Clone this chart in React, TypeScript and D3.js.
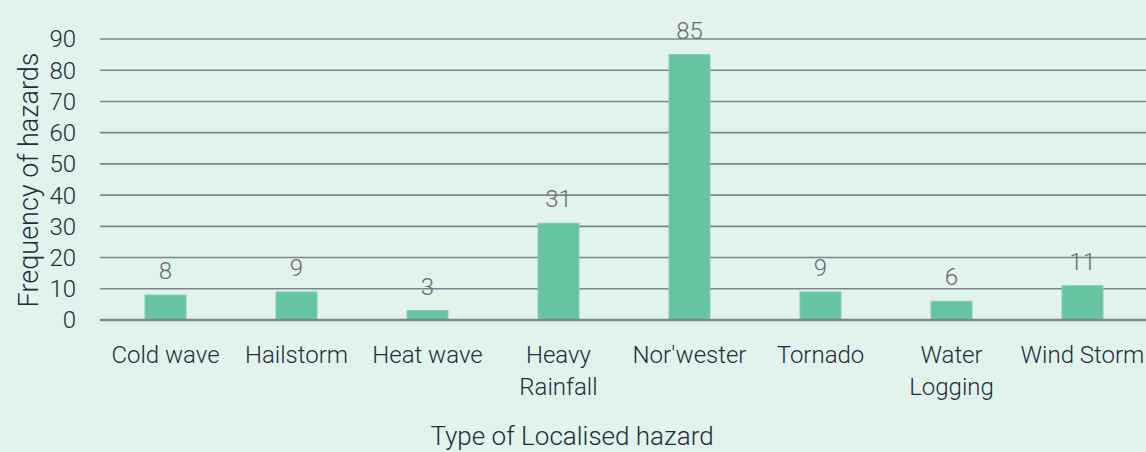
import React from "react";
import * as d3 from "d3";

const categories: string[][] = [
  ["Cold wave"],
  ["Hailstorm"],
  ["Heat wave"],
  ["Heavy", "Rainfall"],
  ["Nor'wester"],
  ["Tornado"],
  ["Water", "Logging"],
  ["Wind Storm"],
];
const values: number[] = [8, 9, 3, 31, 85, 9, 6, 11];
const yTicks: number[] = [0, 10, 20, 30, 40, 50, 60, 70, 80, 90];
const xTitle = "Type of Localised hazard";
const yTitle = "Frequency of hazards";

const W = 1146;
const H = 452;
const FONT = "Roboto, 'Open Sans', sans-serif";

export default function App() {
  const keys = categories.map((c) => c.join(" "));
  const x = d3.scaleBand<string>().domain(keys).range([100, 1148]).paddingInner(0.687).paddingOuter(0.687 / 2);
  const y = d3.scaleLinear().domain([0, 90]).range([320, 39]);

  return (
    <div style={{ position: "fixed", left: 0, top: 0 }}>
      <svg width={W} height={H} style={{ display: "block", fontFamily: FONT }}>
        <rect x={0} y={0} width={W} height={H} fill="#e2f2ec" />
        {yTicks.map((t) => (
          <g key={t}>
            {t !== 0 && (
              <line x1={100} x2={W} y1={y(t)} y2={y(t)} stroke="#7a8691" strokeWidth={1.6} />
            )}
            <text x={76} y={y(t)} dy="0.35em" textAnchor="end" fontSize={24} fontWeight={300} fill="#1f2d3d">
              {t}
            </text>
          </g>
        ))}
        {values.map((v, i) => {
          const k = keys[i];
          const bx = x(k)!;
          const bw = x.bandwidth();
          return (
            <g key={k}>
              <rect x={bx} y={y(v)} width={bw} height={y(0) - y(v)} fill="#66c4a0" stroke="#7fd1b0" strokeWidth={1} />
              <text x={bx + bw / 2} y={y(v) - 16} textAnchor="middle" fontSize={24} fontWeight={300} fill="#6b6b6b">
                {v}
              </text>
            </g>
          );
        })}
        <line x1={100} x2={W} y1={y(0)} y2={y(0)} stroke="#7a8691" strokeWidth={2.6} />
        {categories.map((lines, i) => {
          const k = keys[i];
          const cx = x(k)! + x.bandwidth() / 2;
          return (
            <text key={k} x={cx} y={363} textAnchor="middle" fontSize={24} fontWeight={300} fill="#1f2d3d">
              {lines.map((l, j) => (
                <tspan key={j} x={cx} dy={j === 0 ? 0 : 32}>
                  {l}
                </tspan>
              ))}
            </text>
          );
        })}
        <text x={572} y={445} textAnchor="middle" fontSize={26} fontWeight={300} fill="#1f2d3d">
          {xTitle}
        </text>
        <text
          transform={`translate(38,180) rotate(-90)`}
          textAnchor="middle"
          fontSize={27}
          fontWeight={300}
          fill="#1f2d3d"
        >
          {yTitle}
        </text>
      </svg>
    </div>
  );
}
